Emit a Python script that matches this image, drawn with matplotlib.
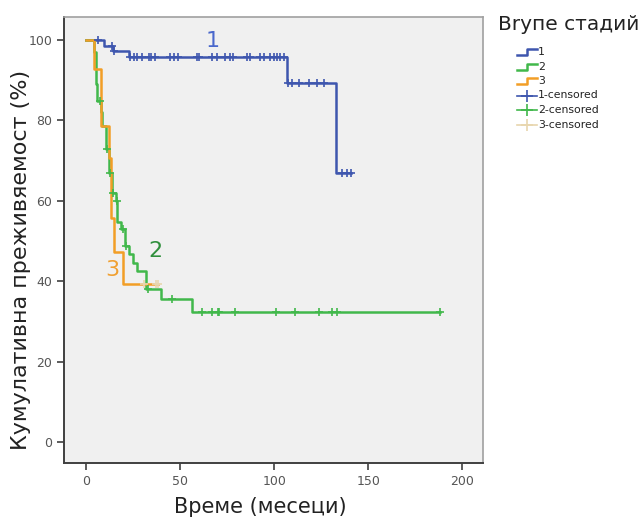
import numpy as np
import matplotlib
matplotlib.use("Agg")
import matplotlib.pyplot as plt
from matplotlib.lines import Line2D

# Kaplan-Meier step curves: event times and survival levels (%)
t1 = [0, 9.6, 14.5, 23.0, 106.7, 133.0]
s1 = [100, 98.6, 97.2, 95.8, 89.4, 67.0]
end1 = 140.8
cens1 = [6.6, 14.0, 15.0, 23.4, 25.5, 27.3, 29.6, 33.2, 34.4, 36.7, 44.7, 46.5,
         49.1, 58.9, 59.8, 66.8, 69.5, 73.9, 76.6, 78.0, 85.5, 86.9, 92.6, 94.3,
         97.9, 99.6, 101.4, 103.2, 105.3, 107.3, 109.4, 112.9, 118.3, 122.7,
         126.2, 136.0, 138.7, 140.8]

t2 = [0, 4.3, 5.1, 6.0, 8.0, 8.7, 10.5, 12.2, 14.0, 15.8, 16.7, 18.4, 20.6,
      22.9, 25.2, 27.3, 31.7, 39.7, 56.2]
s2 = [100, 97.1, 89.0, 84.8, 82.0, 78.6, 72.8, 67.0, 62.0, 59.9, 54.6, 52.9,
      48.8, 46.7, 44.6, 42.5, 38.0, 35.5, 32.4]
end2 = 187.9
cens2 = [7.5, 11.0, 12.9, 14.5, 16.2, 19.5, 21.5, 33.0, 45.6, 61.5, 66.9, 69.9,
         70.4, 78.9, 101.1, 111.2, 123.9, 130.7, 133.3, 187.9]

t3 = [0, 4.3, 7.8, 12.2, 13.3, 14.7, 19.9]
s3 = [100, 92.9, 78.6, 70.7, 55.6, 47.3, 39.3]
end3 = 38.5
cens3 = [30.9, 37.0, 38.5]

groups = ["1", "2", "3"]
line_colors = ["#3e56ae", "#41b84b", "#f29e26"]
cens_colors = ["#3e56ae", "#41b84b", "#e8d6ae"]
label_colors = ["#4a68cc", "#2f8f3c", "#f0a030"]
label_pos = [(67.5, 99.7), (36.7, 47.5), (14.0, 42.8)]

x_ticks = [0, 50, 100, 150, 200]
y_ticks = [0, 20, 40, 60, 80, 100]

plt.rcParams['font.family'] = ['DejaVu Sans']

fig = plt.figure(figsize=(6.4, 5.2), dpi=100)
ax = fig.add_axes([0.1, 0.110, 0.655, 0.857])
ax.set_facecolor("#f0f0f0")


def level_at(times, levels, t):
    idx = np.searchsorted(times, t, side="right") - 1
    return np.asarray(levels)[idx]


curves = [(t1, s1, end1, cens1), (t2, s2, end2, cens2), (t3, s3, end3, cens3)]
for (t, s, end, _), col in zip(curves, line_colors):
    tt = list(t) + [end]
    ss = list(s) + [s[-1]]
    ax.step(tt, ss, where="post", color=col, lw=1.8, zorder=3)

for (t, s, end, c), col in zip(curves, cens_colors):
    ax.plot(c, level_at(t, s, c), linestyle="none", marker="+", ms=6,
            mew=1.2, color=col, zorder=4)

for g, (x, y), col in zip(groups, label_pos, label_colors):
    ax.text(x, y, g, color=col, fontsize=16, ha="center", va="center",
            zorder=5)

ax.set_xlim(-11.7, 211)
ax.set_ylim(-5.2, 105.7)
ax.set_xticks(x_ticks)
ax.set_yticks(y_ticks)
ax.tick_params(direction="out", length=5, width=1.2, color="#404040",
               labelsize=9, labelcolor="#555555")
for side in ["left", "bottom"]:
    ax.spines[side].set_color("#404040")
    ax.spines[side].set_linewidth(1.4)
for side in ["top", "right"]:
    ax.spines[side].set_color("#a0a0a0")
    ax.spines[side].set_linewidth(1.2)

ax.set_xlabel("Време (месеци)", fontsize=15, color="#222222")
ax.set_ylabel("Кумулативна преживяемост (%)", fontsize=16, color="#222222")
ax.xaxis.set_label_coords(0.468, -0.077)
ax.yaxis.set_label_coords(-0.078, 0.455)

# Legend drawn in figure pixel coordinates
W, H = 640, 520
fig.text(498 / W, 1 - 24 / H, "Brупе стадий", fontsize=14.5, color="#222222",
         va="center", ha="left")
entries = ["1", "2", "3", "1-censored", "2-censored", "3-censored"]
ent_colors = line_colors + cens_colors
ys = [52, 66.5, 81, 95.5, 110, 124.5]
for i, (lab, col, y) in enumerate(zip(entries, ent_colors, ys)):
    yf = 1 - y / H
    if i < 3:
        xs = np.array([517, 527, 527, 537]) / W
        yv = 1 - np.array([y + 3, y + 3, y - 3, y - 3]) / H
        fig.add_artist(Line2D(xs, yv, color=col, lw=1.8))
    else:
        fig.add_artist(Line2D([517 / W, 537 / W], [yf, yf], color=col, lw=1.2))
        fig.add_artist(Line2D([527 / W], [yf], color=col, marker="+", ms=9,
                              mew=1.2))
    fig.text(538 / W, yf, lab, fontsize=7.8, color="#222222", va="center",
             ha="left")

fig.savefig("out.png", dpi=100, facecolor="white")
